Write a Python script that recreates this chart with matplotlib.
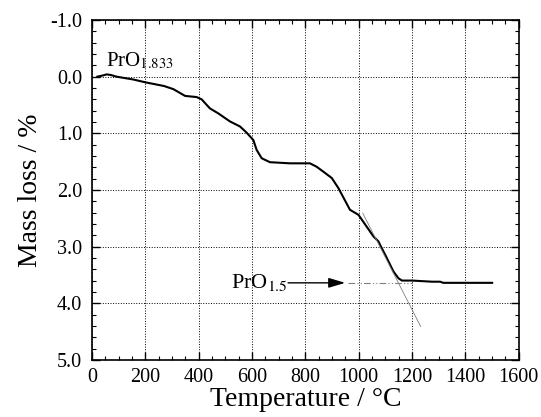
import matplotlib
matplotlib.use("Agg")
import matplotlib.pyplot as plt
from matplotlib.ticker import MultipleLocator, FormatStrFormatter

plt.rcParams["font.family"] = ["Liberation Serif", "DejaVu Serif"]
plt.rcParams["mathtext.fontset"] = "stix"

# TG curve
temp = [20, 40, 55, 70, 92, 117, 155, 200, 243, 270, 305, 349, 392, 411,
        442, 474, 517, 555, 580, 605, 617, 636, 667, 742, 817, 842, 868,
        899, 924, 967, 999, 1030, 1055, 1074, 1080, 1105, 1130, 1149, 1162,
        1200, 1275, 1305, 1317, 1500]
mass_loss = [0.0, -0.02, -0.04, -0.03, 0.0, 0.02, 0.05, 0.1, 0.14, 0.165,
             0.22, 0.34, 0.36, 0.4, 0.56, 0.65, 0.79, 0.88, 0.99, 1.12,
             1.29, 1.44, 1.51, 1.53, 1.53, 1.59, 1.68, 1.79, 1.97, 2.35,
             2.44, 2.65, 2.82, 2.91, 2.97, 3.2, 3.44, 3.56, 3.6, 3.6, 3.62,
             3.62, 3.64, 3.64]

# tangent drawn through the last step
tangent_x = [1015, 1232]
tangent_y = [2.41, 4.41]

# PrO1.5 level
level = 3.64
arrow_x = [735, 949]
dashdot_x = [960, 1200]

fig = plt.figure(figsize=(5.41, 4.17), dpi=100)
ax = fig.add_axes([0.170, 0.137, 0.789, 0.815])

ax.plot(temp, mass_loss, color="black", linewidth=1.5)
ax.plot(tangent_x, tangent_y, color="gray", linewidth=0.6)
ax.plot(dashdot_x, [level, level], color="gray", linewidth=0.8,
        linestyle=(0, (6, 2, 1, 2, 1, 2)))
ax.annotate("", xy=(arrow_x[1], level), xytext=(arrow_x[0], level),
            arrowprops=dict(arrowstyle="-|>,head_length=1.0,head_width=0.3",
                            color="black", linewidth=1.0, shrinkA=0, shrinkB=0))

ax.text(arrow_x[0] - 3, level, r"PrO$_{1.5}$", fontsize=16, ha="right",
        va="center")
ax.text(52, -0.28, r"PrO$_{1.833}$", fontsize=15, ha="left", va="center")

ax.set_xlim(0, 1600)
ax.set_ylim(5.0, -1.0)
ax.xaxis.set_major_locator(MultipleLocator(200))
ax.xaxis.set_minor_locator(MultipleLocator(50))
ax.yaxis.set_major_locator(MultipleLocator(1.0))
ax.yaxis.set_minor_locator(MultipleLocator(0.2))
ax.yaxis.set_major_formatter(FormatStrFormatter("%.1f"))

ax.tick_params(which="both", direction="in", top=True, right=True,
               labelsize=14.5)
ax.tick_params(axis="y", pad=7)
ax.tick_params(axis="x", pad=6)
ax.tick_params(which="major", length=6, width=1.0)
ax.tick_params(which="minor", length=3, width=0.8)
for s in ax.spines.values():
    s.set_linewidth(1.2)

ax.grid(True, which="major", color="black", linestyle=":", linewidth=0.7)

ax.set_xlabel("Temperature / °C", fontsize=20, labelpad=0)
ax.set_ylabel("Mass loss / %", fontsize=20, labelpad=5)

fig.savefig("out.png", dpi=100)
